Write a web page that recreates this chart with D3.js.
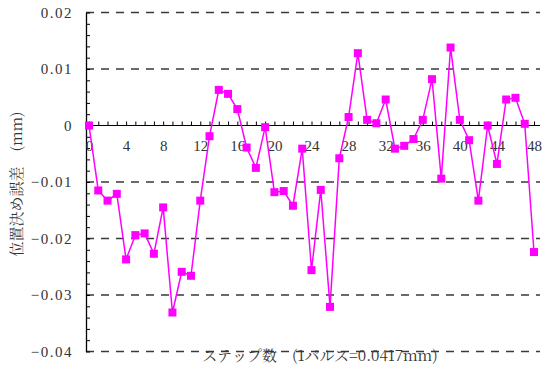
<!DOCTYPE html>
<html>
<head>
<meta charset="utf-8">
<script src="https://cdn.jsdelivr.net/npm/d3@7"></script>
<style>
  body { margin: 0; background: #fff; }
  svg { display: block; }
</style>
</head>
<body>
<svg id="chart" width="542" height="374"></svg>
<script>
// step index 0..48 and positioning error (mm)
var steps = d3.range(0, 49);
var errors = [
  0.0000, -0.0115, -0.0133, -0.0121, -0.0237, -0.0194, -0.0191, -0.0227, -0.0145, -0.0331,
  -0.0259, -0.0266, -0.0133, -0.0019, 0.0063, 0.0056, 0.0029, -0.0039, -0.0075, -0.0003,
  -0.0118, -0.0116, -0.0142, -0.0041, -0.0256, -0.0114, -0.0321, -0.0058, 0.0015, 0.0128,
  0.0010, 0.0004, 0.0046, -0.0041, -0.0036, -0.0024, 0.0010, 0.0082, -0.0094, 0.0138,
  0.0010, -0.0026, -0.0133, 0.0000, -0.0068, 0.0046, 0.0049, 0.0003, -0.0224
];
var yTicks = [0.02, 0.01, 0, -0.01, -0.02, -0.03, -0.04];
var xLabels = [0, 4, 8, 12, 16, 20, 24, 28, 32, 36, 40, 44, 48];
var xTitle = "ステップ数　(1パルス=0.0417mm)";
var yTitle = "位置決め誤差　(mm)";

var left = 86, right = 540;
var numFont = "Liberation Serif, serif";
var jpFont = "Noto Serif CJK JP, Noto Sans CJK JP, serif";

var x = d3.scaleLinear().domain([0, 48]).range([89, 534]);
var y = d3.scaleLinear().domain([-0.04, 0.02]).range([351.5, 12.5]);

var svg = d3.select('#chart');

// dashed grid
svg.append("g").selectAll("line")
  .data(yTicks.filter(function(d) { return d !== 0; }))
  .join("line")
    .attr("x1", left).attr("x2", right)
    .attr("y1", function(d) { return y(d); })
    .attr("y2", function(d) { return y(d); })
    .attr("stroke", "#3a3a3a")
    .attr("stroke-width", 1.4)
    .attr("stroke-dasharray", "8,7");

// zero line
svg.append("line")
  .attr("x1", left).attr("x2", right)
  .attr("y1", y(0)).attr("y2", y(0))
  .attr("stroke", "#000").attr("stroke-width", 1.2);

// left axis minor ticks
var yMinor = d3.axisRight(y).tickValues(d3.range(-0.04, 0.0201, 0.002)).tickSize(4).tickSizeOuter(0).tickFormat("");
var gy = svg.append("g").attr("transform", "translate(" + left + ",0)").call(yMinor);
gy.select(".domain").attr("stroke", "#000").attr("stroke-width", 1.3);
gy.selectAll(".tick line").attr("stroke", "#000");

// y labels
var yLab = d3.axisLeft(y).tickValues(yTicks).tickSize(0).tickPadding(13)
  .tickFormat(function(d) { return d === 0 ? "0" : d3.format(".2f")(d); });
var gyl = svg.append("g").attr("transform", "translate(" + left + ",0)").call(yLab);
gyl.attr("font-family", numFont).attr("font-size", 15);
gyl.select(".domain").remove();
gyl.selectAll("text")
  .attr("font-family", numFont).attr("font-size", 15)
  .attr("letter-spacing", 1.5).attr("fill", "#333");

// x ticks on zero line
var xMinor = d3.axisTop(x).tickValues(steps).tickSize(4).tickSizeOuter(0).tickFormat("");
var gx = svg.append("g").attr("transform", "translate(0," + y(0) + ")").call(xMinor);
gx.select(".domain").remove();
gx.selectAll(".tick line").attr("stroke", "#000");

var xLab = d3.axisBottom(x).tickValues(xLabels).tickSize(0).tickPadding(15);
var gxl = svg.append("g").attr("transform", "translate(0," + y(0) + ")").call(xLab);
gxl.attr("font-family", numFont).attr("font-size", 15);
gxl.select(".domain").remove();
gxl.selectAll("text")
  .attr("font-family", numFont).attr("font-size", 15).attr("fill", "#333");

// series
var line = d3.line()
  .x(function(d, i) { return x(steps[i]); })
  .y(function(d) { return y(d); });

svg.append("path")
  .datum(errors)
  .attr("d", line)
  .attr("fill", "none")
  .attr("stroke", "#ff00ff")
  .attr("stroke-width", 1.5);

svg.append("g").selectAll("rect")
  .data(errors)
  .join("rect")
    .attr("x", function(d, i) { return x(steps[i]) - 4; })
    .attr("y", function(d) { return y(d) - 4; })
    .attr("width", 8).attr("height", 8)
    .attr("fill", "#ff00ff");

// titles
svg.append("text")
  .attr("x", 320).attr("y", 361)
  .attr("text-anchor", "middle")
  .attr("font-family", jpFont).attr("font-size", 15).attr("fill", "#333")
  .text(xTitle);

svg.append("text")
  .attr("transform", "translate(22,184) rotate(-90)")
  .attr("text-anchor", "middle")
  .attr("font-family", jpFont).attr("font-size", 15).attr("fill", "#333")
  .text(yTitle);
</script>
</body>
</html>
